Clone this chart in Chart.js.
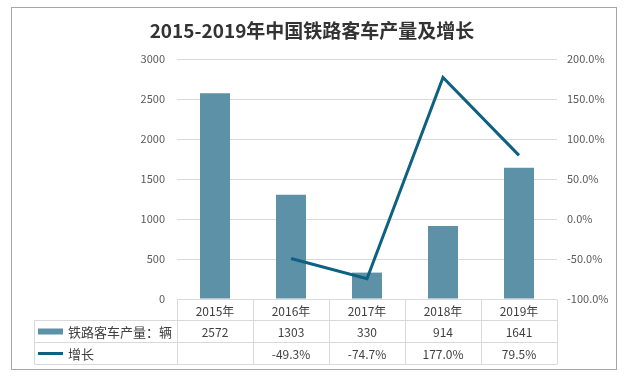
<!DOCTYPE html>
<html>
<head>
<meta charset="utf-8">
<script src="https://cdn.jsdelivr.net/npm/chart.js@4.4.1/dist/chart.umd.min.js"></script>
<style>
html,body{margin:0;padding:0;background:#fff;}
canvas{display:block;}
</style>
</head>
<body>
<canvas id="c" width="624" height="377"></canvas>
<script>
const titleText = '2015-2019年中国铁路客车产量及增长';
const categories = ['2015年', '2016年', '2017年', '2018年', '2019年'];
const outputName = '铁路客车产量：辆';
const outputValues = [2572, 1303, 330, 914, 1641];
const growthName = '增长';
const growthValues = [null, -49.3, -74.7, 177.0, 79.5];
const leftTicks = [0, 500, 1000, 1500, 2000, 2500, 3000];
const rightTicks = [-100, -50, 0, 50, 100, 150, 200];

const BAR_COLOR = '#5d91a8';
const LINE_COLOR = '#0f6181';
const GRID = '#d9d9d9';
const TEXT = '#404040';
const FONT = '"Noto Sans CJK SC", "Noto Sans", sans-serif';

const fmtPct = v => (v === null ? '' : v.toFixed(1) + '%');

const framePlugin = {
  id: 'frame',
  beforeDraw(chart) {
    const ctx = chart.ctx;
    ctx.save();
    ctx.fillStyle = '#fff';
    ctx.fillRect(0, 0, chart.width, chart.height);
    ctx.strokeStyle = '#a6a6a6';
    ctx.lineWidth = 1;
    ctx.strokeRect(11.5, 7.5, 605, 362);
    ctx.restore();
  }
};

const tablePlugin = {
  id: 'dataTable',
  afterDraw(chart) {
    const ctx = chart.ctx;
    const xs = chart.scales.x;
    const area = chart.chartArea;
    const n = categories.length;
    const w = (area.right - area.left) / n;
    const top = Math.round(area.bottom) + 0.5;
    const r1 = top + 21, r2 = r1 + 22, r3 = r2 + 22;
    const legLeft = 34.5;
    ctx.save();
    ctx.strokeStyle = GRID;
    ctx.lineWidth = 1;
    ctx.beginPath();
    ctx.moveTo(area.left, top); ctx.lineTo(area.right, top);
    [r1, r2, r3].forEach(y => { ctx.moveTo(legLeft, y); ctx.lineTo(area.right, y); });
    for (let i = 0; i <= n; i++) {
      const x = Math.round(xs.getPixelForValue(0) - w / 2 + i * w) + 0.5;
      ctx.moveTo(x, top); ctx.lineTo(x, r3);
    }
    ctx.moveTo(legLeft, r1); ctx.lineTo(legLeft, r3);
    ctx.stroke();

    ctx.fillStyle = TEXT;
    ctx.font = '12px ' + FONT;
    ctx.textAlign = 'center';
    ctx.textBaseline = 'middle';
    categories.forEach((c, i) => {
      const cx = xs.getPixelForValue(i);
      ctx.fillText(c, cx, (top + r1) / 2 + 1);
      ctx.fillText(String(outputValues[i]), cx, (r1 + r2) / 2 + 1);
      ctx.fillText(fmtPct(growthValues[i]), cx, (r2 + r3) / 2 + 1);
    });
    ctx.textAlign = 'left';
    ctx.fillStyle = BAR_COLOR;
    ctx.fillRect(38, (r1 + r2) / 2 - 3, 25, 6);
    ctx.strokeStyle = LINE_COLOR;
    ctx.lineWidth = 3;
    ctx.beginPath();
    ctx.moveTo(38, (r2 + r3) / 2);
    ctx.lineTo(63, (r2 + r3) / 2);
    ctx.stroke();
    ctx.fillStyle = TEXT;
    ctx.font = '13px ' + FONT;
    ctx.fillText(outputName, 68, (r1 + r2) / 2 + 1);
    ctx.fillText(growthName, 68, (r2 + r3) / 2 + 1);
    ctx.restore();
  }
};

Chart.defaults.font.family = FONT;

new Chart(document.getElementById('c'), {
  data: {
    labels: categories,
    datasets: [
      {
        type: 'line',
        label: growthName,
        data: growthValues,
        yAxisID: 'y1',
        borderColor: LINE_COLOR,
        borderWidth: 3,
        pointRadius: 0,
        tension: 0,
        order: 0
      },
      {
        type: 'bar',
        label: outputName,
        data: outputValues,
        yAxisID: 'y',
        backgroundColor: BAR_COLOR,
        categoryPercentage: 1,
        barPercentage: 0.395,
        order: 1
      }
    ]
  },
  options: {
    responsive: false,
    animation: false,
    layout: { padding: { left: 0, right: 0, top: 0, bottom: 78 } },
    plugins: {
      legend: { display: false },
      tooltip: { enabled: false },
      title: {
        display: true,
        text: titleText,
        color: '#333333',
        font: { size: 19, weight: 'bold', family: FONT, lineHeight: 1.2 },
        padding: { top: 19.1, bottom: 17.1 }
      }
    },
    scales: {
      x: {
        display: false,
        offset: true
      },
      y: {
        position: 'left',
        min: 0,
        max: 3000,
        afterBuildTicks: s => { s.ticks = leftTicks.map(v => ({ value: v })); },
        afterFit: s => { s.width = 177; },
        grid: { color: GRID, drawTicks: false, lineWidth: 1 },
        border: { display: false },
        ticks: { color: '#595959', font: { size: 11 }, padding: 12, callback: v => String(v) }
      },
      y1: {
        position: 'right',
        min: -100,
        max: 200,
        afterBuildTicks: s => { s.ticks = rightTicks.map(v => ({ value: v })); },
        afterFit: s => { s.width = 67; },
        grid: { display: false, drawTicks: false },
        border: { display: false },
        ticks: { color: '#595959', font: { size: 11 }, padding: 10, callback: v => v.toFixed(1) + '%' }
      }
    }
  },
  plugins: [framePlugin, tablePlugin]
});
</script>
</body>
</html>
